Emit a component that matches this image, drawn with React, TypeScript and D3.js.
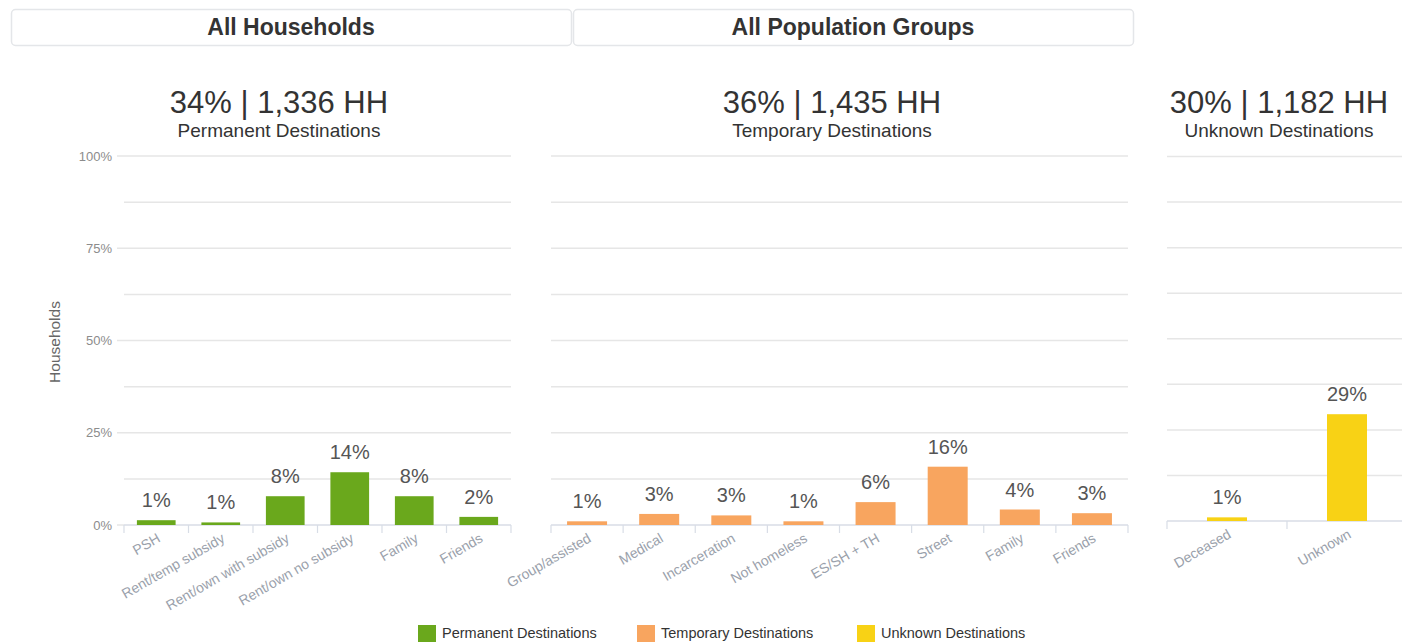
import React from "react";
import * as d3 from "d3";

const permCategories = ["PSH", "Rent/temp subsidy", "Rent/own with subsidy", "Rent/own no subsidy", "Family", "Friends"];
const permValues = [1.3, 0.7, 7.8, 14.3, 7.8, 2.2];
const tempCategories = ["Group/assisted", "Medical", "Incarceration", "Not homeless", "ES/SH + TH", "Street", "Family", "Friends"];
const tempValues = [1.0, 3.0, 2.6, 1.0, 6.2, 15.8, 4.2, 3.2];
const unknownCategories = ["Deceased", "Unknown"];
const unknownValues = [1.0, 29.3];

const panelTitles = ["34% | 1,336 HH", "36% | 1,435 HH", "30% | 1,182 HH"];
const panelSubtitles = ["Permanent Destinations", "Temporary Destinations", "Unknown Destinations"];
const legendLabels = ["Permanent Destinations", "Temporary Destinations", "Unknown Destinations"];
const colors = ["#6aa81c", "#f8a55f", "#f8d215"];
const yTicks = [0, 25, 50, 75, 100];
const yMinor = [12.5, 37.5, 62.5, 87.5];
const buttons = ["All Households", "All Population Groups"];

const FONT = "'Liberation Sans', Arial, sans-serif";

type PanelProps = {
  cats: string[];
  vals: number[];
  color: string;
  x0: number;
  x1: number;
  yBottom: number;
  yTop: number;
  showAxis: boolean;
  titleX: number;
  title: string;
  subtitle: string;
  gridRight: number;
};

function Panel(p: PanelProps) {
  const x = d3.scaleBand<string>().domain(p.cats).range([p.x0, p.x1]).paddingInner(0).paddingOuter(0);
  const y = d3.scaleLinear().domain([0, 100]).range([p.yBottom, p.yTop]);
  const bw = Math.min(x.bandwidth() * 0.6, 40);
  const ticksX = p.cats.map((c) => x(c) as number).concat([p.x1]);
  return (
    <g>
      <text x={p.titleX} y={113} textAnchor="middle" fontSize={31} fill="#333" fontFamily={FONT}>{p.title}</text>
      <text x={p.titleX} y={137} textAnchor="middle" fontSize={19} fill="#333" fontFamily={FONT}>{p.subtitle}</text>
      {yMinor.map((t) => (
        <line key={"m" + t} x1={p.x0} x2={p.gridRight} y1={y(t)} y2={y(t)} stroke="#e6e6e6" strokeWidth={1.5} />
      ))}
      {yTicks.filter((t) => t > 0).map((t) => (
        <line key={"g" + t} x1={p.showAxis ? p.x0 - 7 : p.x0} x2={p.gridRight} y1={y(t)} y2={y(t)} stroke="#e6e6e6" strokeWidth={1.5} />
      ))}
      {p.showAxis && yTicks.map((t) => (
        <text key={"yl" + t} x={p.x0 - 12} y={y(t) + 4.5} textAnchor="end" fontSize={13} fill="#8c8c8c" fontFamily={FONT}>{t + "%"}</text>
      ))}
      {p.showAxis && <line x1={p.x0 - 7} x2={p.x0} y1={y(0)} y2={y(0)} stroke="#e6e6e6" strokeWidth={1.5} />}
      <line x1={p.x0} x2={p.gridRight} y1={y(0)} y2={y(0)} stroke="#d8dde6" strokeWidth={1.5} />
      {ticksX.map((tx, i) => (
        <line key={"tx" + i} x1={tx} x2={tx} y1={y(0)} y2={y(0) + 8} stroke="#d8dde6" strokeWidth={1.2} />
      ))}
      {p.cats.map((c, i) => {
        const cx = (x(c) as number) + x.bandwidth() / 2;
        const top = y(p.vals[i]);
        return (
          <g key={c}>
            <rect x={cx - bw / 2} y={top} width={bw} height={y(0) - top} fill={p.color} />
            <text x={cx} y={top - 13} textAnchor="middle" fontSize={20} fill="#555" fontFamily={FONT}>{Math.round(p.vals[i]) + "%"}</text>
            <text transform={`translate(${cx + 5},${y(0) + 16}) rotate(-30)`} textAnchor="end" fontSize={14} fill="#9aa1ab" fontFamily={FONT}>{c}</text>
          </g>
        );
      })}
    </g>
  );
}

export default function App() {
  const legendX = [418, 637, 857];
  return (
    <svg width={1402} height={642} style={{ position: "absolute", left: 0, top: 0, background: "#fff" }}>
      {buttons.map((b, i) => {
        const bx = 11 + i * 562;
        return (
          <g key={b}>
            <rect x={bx + 0.5} y={9.5} width={560} height={36} rx={4} fill="#fff" stroke="#e4e6e9" strokeWidth={1.5} />
            <text x={bx + 280} y={35} textAnchor="middle" fontSize={23} fontWeight="bold" fill="#333" fontFamily={FONT}>{b}</text>
          </g>
        );
      })}
      <text transform="translate(60,342) rotate(-90)" textAnchor="middle" fontSize={15.5} fill="#666" fontFamily={FONT}>Households</text>
      <Panel cats={permCategories} vals={permValues} color={colors[0]} x0={124} x1={511} gridRight={511} yBottom={525} yTop={156} showAxis={true} titleX={279} title={panelTitles[0]} subtitle={panelSubtitles[0]} />
      <Panel cats={tempCategories} vals={tempValues} color={colors[1]} x0={551} x1={1128} gridRight={1128} yBottom={525} yTop={156} showAxis={false} titleX={832} title={panelTitles[1]} subtitle={panelSubtitles[1]} />
      <Panel cats={unknownCategories} vals={unknownValues} color={colors[2]} x0={1167} x1={1407} gridRight={1402} yBottom={521} yTop={156.5} showAxis={false} titleX={1279} title={panelTitles[2]} subtitle={panelSubtitles[2]} />
      {legendLabels.map((l, i) => (
        <g key={l}>
          <rect x={legendX[i]} y={625} width={18} height={17} fill={colors[i]} />
          <text x={legendX[i] + 24} y={638} fontSize={14.5} fill="#333" fontFamily={FONT}>{l}</text>
        </g>
      ))}
    </svg>
  );
}
